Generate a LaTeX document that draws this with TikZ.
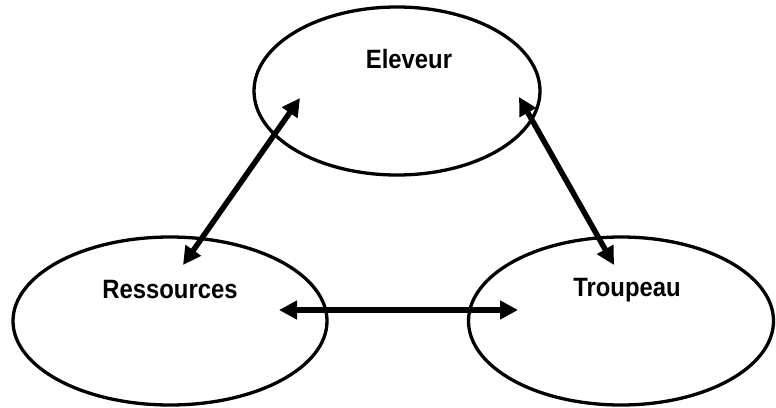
\documentclass[tikz,border=0pt]{standalone}
\usepackage{fontspec}
\newfontfamily\narrowsans[FakeStretch=0.9]{Liberation Sans}
\usepackage{tikz}
\usetikzlibrary{shapes.geometric, arrows.meta, positioning}

\begin{document}
\begin{tikzpicture}[x=1pt, y=-1pt,
    blob/.style={ellipse, draw=black, line width=3.3pt, inner sep=0pt, minimum height=168pt},
    word/.style={font=\narrowsans\bfseries\fontsize{26.5}{30}\selectfont, inner sep=0pt},
    link/.style={line width=5.5pt, {Triangle[length=18pt,width=18pt]}-{Triangle[length=18pt,width=18pt]}}]
    \useasboundingbox (0,0) rectangle (776,407);

    \begin{scope}
        \node[blob, minimum width=286pt] (eleveur) at (397,91) {};
        \node[blob, minimum width=314pt] (ressources) at (170,321) {};
        \node[blob, minimum width=305pt] (troupeau) at (621,321) {};
    \end{scope}

    \node[word] (eleveurtxt) at ([shift={(12,-32)}]eleveur.center) {Eleveur};
    \node[word] (ressourcestxt) at ([shift={(0,-31)}]ressources.center) {Ressources};
    \node[word] (troupeautxt) at ([shift={(6,-31)}]troupeau.center) {Troupeau};

    \begin{scope}[every path/.style={link}]
        \draw ([shift={(-97,7)}]eleveur.center) -- ([shift={(13,-56)}]ressources.center);
        \draw ([shift={(122,6)}]eleveur.center) -- ([shift={(-7,-56)}]troupeau.center);
        \draw ([shift={(109,-11)}]ressources.center) -- ([shift={(-103,-11)}]troupeau.center);
    \end{scope}
\end{tikzpicture}
\end{document}
